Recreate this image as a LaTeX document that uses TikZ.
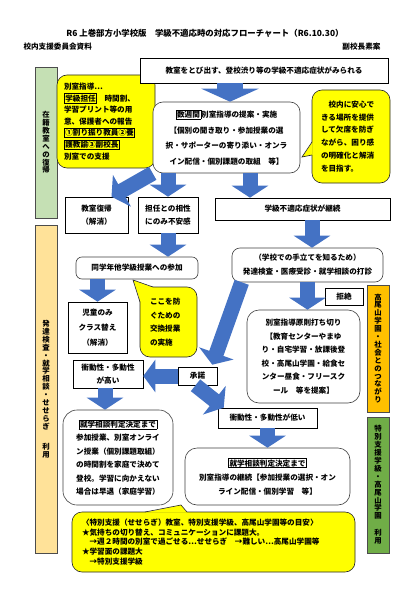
\documentclass[tikz,border=0pt]{standalone}
\usepackage{fontspec}
\setmainfont{Noto Sans CJK JP}
\usetikzlibrary{arrows.meta, calc}
\definecolor{noteyellow}{RGB}{255,255,0}
\definecolor{arrowblue}{RGB}{68,114,196}
\definecolor{sidegreen}{RGB}{197,224,180}
\definecolor{sideorange}{RGB}{255,226,153}
\definecolor{deeporange}{RGB}{255,192,0}
\definecolor{deepgreen}{RGB}{112,173,71}
\newcommand{\waku}[1]{{\setlength{\fboxsep}{0.6pt}\setlength{\fboxrule}{0.7pt}\fbox{#1}}}

\begin{document}
\begin{tikzpicture}[x=1pt, y=-1pt,
  box/.style={draw, line width=0.6pt, fill=white, align=center, inner sep=1pt, font=\fontsize{7.6}{13}\selectfont\bfseries},
  roundbox/.style={box, draw=black!75, rounded corners=10pt},
  notebox/.style={draw=black!85, line width=0.6pt, fill=noteyellow, rounded corners=10pt, align=left, inner sep=0pt, font=\fontsize{7.6}{12}\selectfont\bfseries},
  sidebar/.style={draw=black!70, line width=0.6pt, align=center, inner sep=0pt, minimum width=22pt, font=\fontsize{7.4}{7.9}\selectfont\bfseries},
  bigarrow/.style={arrowblue, line width=15pt, -{Triangle[length=12pt, width=36pt]}},
  notetip/.style={draw=black!85, line width=0.6pt, line join=miter}
]
\fill[white] (0,0) rectangle (417,591);
\useasboundingbox (0,0) rectangle (417,591);

% Heading
\node[font=\fontsize{8.4}{10}\selectfont\bfseries] (title) at (205,33) {R6 上巻部方小学校版　学級不適応時の対応フローチャート（R6.10.30）};
\node[font=\fontsize{7.6}{9}\selectfont\bfseries, anchor=west] (dept) at (20,47) {校内支援委員会資料};
\node[font=\fontsize{7.6}{9}\selectfont\bfseries, anchor=east] (draft) at (384,47) {副校長素案};

% Side bars
\node[sidebar, fill=sidegreen, minimum height=151pt] (sideA) at (46,142.5) {在\\籍\\教\\室\\へ\\の\\復\\帰};
\node[sidebar, fill=sideorange, minimum height=328pt] (sideB) at (46,389) {発\\達\\検\\査\\・\\就\\学\\相\\談\\・\\せ\\せ\\ら\\ぎ\\[12pt]利\\用};
\node[sidebar, fill=deeporange, minimum height=127pt] (sideC) at (378,348.5) {高\\尾\\山\\学\\園\\・\\社\\会\\と\\の\\つ\\な\\が\\り};
\node[sidebar, fill=deepgreen, minimum height=136pt] (sideD) at (378,485) {特\\別\\支\\援\\学\\級\\・\\高\\尾\\山\\学\\園\\[9pt]利\\用};

% Yellow notes
\node[notebox, minimum width=98pt, minimum height=93pt, text width=84pt, font=\fontsize{7.6}{11.6}\selectfont\bfseries] (leftnote) at (106,121.5) {別室指導…\\\waku{学級担任}　時間割、\\学習プリント等の用\\意、保護者への報告\\\waku{①割り振り教員②養}\\\waku{護教諭③副校長}\\別室での支援};
\node[notebox, minimum width=78pt, minimum height=93pt, text width=60pt, font=\fontsize{7.6}{12.8}\selectfont\bfseries] (rightnote) at (351,136.5) {　校内に安心で\\きる場所を提供\\して欠席を防ぎ\\ながら、困り感\\の明確化と解消\\を目指す。};
\fill[noteyellow] (312.5,142) -- (302,157) -- (312.5,155) -- cycle;
\draw[notetip] (312,142) -- (302,157) -- (312,155);
\node[notebox, minimum width=57pt, minimum height=70pt, text width=37pt, font=\fontsize{7.6}{13.5}\selectfont\bfseries] (midnote) at (168.5,322) {ここを防\\ぐための\\交換授業\\の実施};
\fill[noteyellow] (140.5,302) -- (133,280) -- (153,287.5) -- cycle;
\draw[notetip] (140,302) -- (133,280) -- (153,287);
\node[notebox, minimum width=283pt, minimum height=60pt, text width=263pt, font=\fontsize{7.6}{9.8}\selectfont\bfseries] (bottomnote) at (213.5,542) {〈特別支援（せせらぎ）教室、特別支援学級、高尾山学園等の目安〉\\★気持ちの切り替え、コミュニケーションに課題大。\\　→週２時間の別室で過ごせる…せせらぎ　→難しい…高尾山学園等\\★学習面の課題大\\　→特別支援学級};
\fill[noteyellow] (145,512.5) -- (181,505) -- (187,512.5) -- cycle;
\draw[notetip] (145,512) -- (181,505) -- (187,512);

% Flow boxes
\node[box, minimum width=248pt, minimum height=25pt] (topbox) at (264,70.5) {教室をとび出す、登校渋り等の学級不適応症状がみられる};
\node[roundbox, minimum width=147pt, minimum height=71pt, font=\fontsize{7.6}{15.5}\selectfont\bfseries] (prop) at (226.5,137.5) {\waku{数週間}別室指導の提案・実施\\【個別の聞き取り・参加授業の選\\択・サポーターの寄り添い・オンラ\\イン配信・個別課題の取組　等】};
\node[box, minimum width=63pt, minimum height=36pt] (fukki) at (96.5,215) {教室復帰\\（解消）};
\node[box, minimum width=60pt, minimum height=36pt] (tannin) at (168,215) {担任との相性\\にのみ不安感};
\node[box, minimum width=175pt, minimum height=22pt] (keizoku) at (302.5,209) {学級不適応症状が継続};
\node[roundbox, rounded corners=6pt, minimum width=122pt, minimum height=22pt] (dougaku) at (137,268) {同学年他学級授業への参加};
\node[roundbox, rounded corners=8pt, minimum width=151pt, minimum height=34pt, font=\fontsize{7.6}{14}\selectfont\bfseries] (dashin) at (307.5,265) {（学校での手立てを知るため）\\発達検査・医療受診・就学相談の打診};
\node[box, minimum width=59pt, minimum height=51pt, font=\fontsize{7.6}{15}\selectfont\bfseries] (classgae) at (97.5,327.5) {児童のみ\\クラス替え\\（解消）};
\node[box, minimum width=38pt, minimum height=17pt] (kyozetsu) at (344,296.5) {拒絶};
\node[roundbox, rounded corners=12pt, minimum width=113pt, minimum height=93pt, font=\fontsize{7.6}{13.6}\selectfont\bfseries] (uchikiri) at (303.5,356.5) {別室指導原則打ち切り\\【教育センターやまゆ\\り・自宅学習・放課後登\\校・高尾山学園・給食セ\\ンター昼食・フリースク\\ール　等を提案】};
\node[box, minimum width=39pt, minimum height=18pt] (shoudaku) at (197.5,376) {承諾};
\node[box, minimum width=70pt, minimum height=28pt] (takai) at (108,374) {衝動性・多動性\\が高い};
\node[box, minimum width=99pt, minimum height=20pt] (hikui) at (267.5,418) {衝動性・多動性が低い};
\node[roundbox, rounded corners=14pt, minimum width=110pt, minimum height=95pt, font=\fontsize{7.6}{13.4}\selectfont\bfseries] (leftbig) at (118,457.5) {\waku{就学相談判定決定まで}\\参加授業、別室オンライ\\ン授業（個別課題取組）\\の時間割を家庭で決めて\\登校。学習に向かえない\\場合は早退（家庭学習）};
\node[roundbox, rounded corners=12pt, minimum width=165pt, minimum height=57pt, font=\fontsize{7.6}{14}\selectfont\bfseries] (rightbig) at (267.5,476.5) {\waku{就学相談判定決定まで}\\別室指導の継続【参加授業の選択・オン\\ライン配信・個別学習　等】};

% Block arrows
\draw[bigarrow, line width=26pt, -{Triangle[length=13pt, width=57pt]}] ($(topbox.south)+(-34,0)$) -- ($(prop.north)+(3.5,0)$);
\draw[bigarrow] (prop.south west) -- ($(fukki.north)+(15,0)$);
\draw[bigarrow] (prop.south -| tannin.north) -- (tannin.north);
\draw[bigarrow] ($(prop.south)+(23.5,0)$) -- ($(prop.south |- keizoku.north)+(23.5,0)$);
\draw[bigarrow] (tannin.south) -- (tannin.south |- dougaku.north);
\draw[bigarrow] ($(keizoku.south)+(9.5,0)$) -- ($(keizoku.south |- dashin.north)+(9.5,0)$);
\draw[bigarrow] (dougaku.south -| classgae.north) -- (classgae.north);
\draw[bigarrow] (dashin.south) -- (dashin.south |- uchikiri.north);
\draw[bigarrow] ($(dashin.south west)+(10,0)$) -- ($(shoudaku.north east)+(-5,-2)$);
\draw[bigarrow, -{Triangle[length=12pt, width=32pt]}] (shoudaku.west) -- (shoudaku.west -| takai.east);
\draw[bigarrow] ($(shoudaku.south)+(-2,0)$) -- ($(hikui.north west)+(6,0)$);
\draw[bigarrow] ($(takai.south)+(-3,0)$) -- ($(takai.south |- leftbig.north)+(-3,0)$);
\draw[bigarrow] (hikui.south) -- (hikui.south |- rightbig.north);
\end{tikzpicture}
\end{document}
